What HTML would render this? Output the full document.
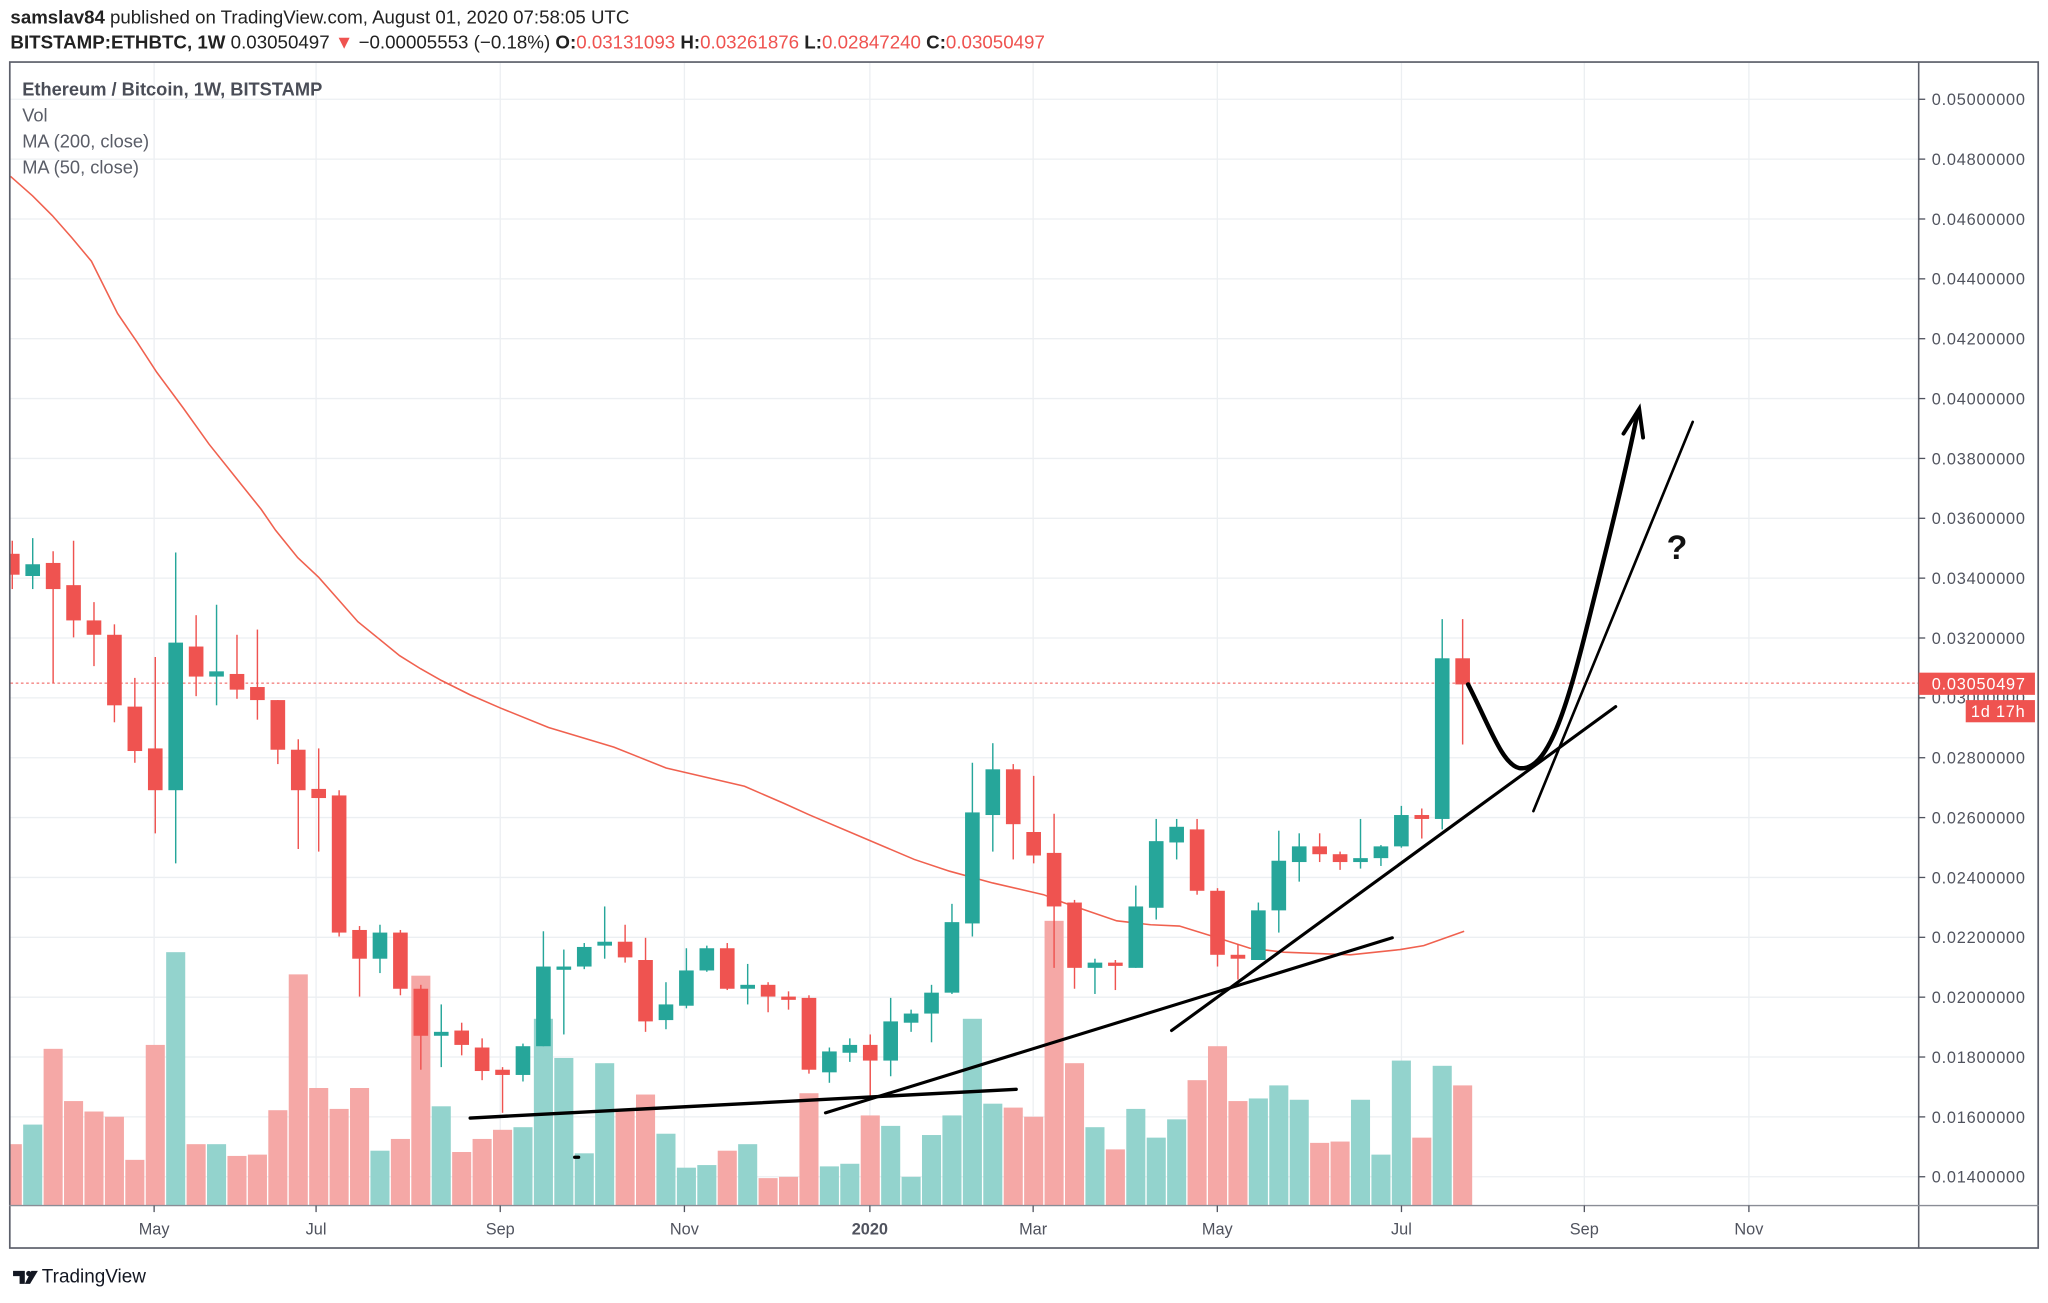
<!DOCTYPE html>
<html><head><meta charset="utf-8"><style>
html,body{margin:0;padding:0;background:#fff;}
svg{display:block;font-family:"Liberation Sans",sans-serif;}
</style></head><body>
<svg id="c" xmlns="http://www.w3.org/2000/svg" width="2048" height="1303" viewBox="0 0 1568 997.6" preserveAspectRatio="none">
<rect width="1568" height="998" fill="#fff"/>
<g id="grid"></g>
<g id="vol"></g>
<polyline fill="none" stroke="#f0614f" stroke-width="1.2" points="8,135 25,150 40,165 55,182 70,200 80,220 90,240 105,262 120,285 140,312 160,340 180,365 200,390 211,406 228,427 244,442 259,459 274,476 290,489 306,502 322,512 338,521 360,532 383,542 420,557 470,572 510,588 570,602 600,615 620,624 660,641 700,658 727,667 760,676 799,685 814,691 855,705 881,708 903,709 932,718 957,726 983,729 1034,731 1072,727 1090,724 1121,713"/>
<line x1="8" y1="523" x2="1469" y2="523" stroke="#ef5350" stroke-width="0.8" stroke-dasharray="2,2"/>
<g id="cnd"></g>
<g stroke="#000" fill="none" stroke-linecap="round">
<line x1="360" y1="856" x2="778" y2="834" stroke-width="2.6"/>
<line x1="632" y1="852" x2="1066" y2="718" stroke-width="2.4"/>
<line x1="897" y1="789" x2="1237" y2="541" stroke-width="2.4"/>
<line x1="1174" y1="621" x2="1296" y2="323" stroke-width="2"/>
<path d="M1124,524 C1140,555 1150,585 1163,588 C1185,592 1200,540 1215,480 C1230,420 1245,360 1254,315" stroke-width="3.4"/>
<path d="M1243,332 L1255,313 L1258,335" stroke-width="3"/>
<line x1="440" y1="886" x2="443" y2="886" stroke-width="2.5"/>
</g>
<text x="1276" y="428" font-size="26" font-weight="bold" fill="#111">?</text>
<rect x="7.5" y="47.5" width="1553" height="908" fill="none" stroke="#5d606b" stroke-width="1.3"/>
<line x1="1469" y1="47" x2="1469" y2="956" stroke="#5d606b" stroke-width="1.2"/>
<line x1="7" y1="923" x2="1561" y2="923" stroke="#8a8d96" stroke-width="1"/>
<g id="axis" font-size="12.5" fill="#50535e" letter-spacing="0.6"></g>
<rect x="1469" y="515" width="89" height="17" fill="#ef5350"/>
<text x="1479" y="528" font-size="12.5" fill="#fff" letter-spacing="0.6">0.03050497</text>
<rect x="1505" y="536" width="53" height="17" fill="#ef5350"/>
<text x="1509" y="549" font-size="12.5" fill="#fff" letter-spacing="0.6">1d 17h</text>
<g id="xl" font-size="12.5" fill="#50535e" text-anchor="middle"></g>
<text x="8" y="18" font-size="14.3" fill="#222"><tspan font-weight="bold">samslav84</tspan> published on TradingView.com, August 01, 2020 07:58:05 UTC</text>
<text x="8" y="37" font-size="14.4" fill="#222" textLength="792" lengthAdjust="spacingAndGlyphs"><tspan font-weight="bold">BITSTAMP:ETHBTC, 1W</tspan>  0.03050497 <tspan fill="#ef5350">▼</tspan> −0.00005553 (−0.18%) <tspan font-weight="bold">O:</tspan><tspan fill="#ef5350">0.03131093</tspan> <tspan font-weight="bold">H:</tspan><tspan fill="#ef5350">0.03261876</tspan> <tspan font-weight="bold">L:</tspan><tspan fill="#ef5350">0.02847240</tspan> <tspan font-weight="bold">C:</tspan><tspan fill="#ef5350">0.03050497</tspan></text>
<text x="17" y="73" font-size="14" font-weight="bold" fill="#4a4d57">Ethereum / Bitcoin, 1W, BITSTAMP</text>
<text x="17" y="93" font-size="14" fill="#5a5d67">Vol</text>
<text x="17" y="113" font-size="14" fill="#5a5d67">MA (200, close)</text>
<text x="17" y="133" font-size="14" fill="#5a5d67">MA (50, close)</text>
<g transform="translate(9,970)"><path d="M1,3 h9 v10 h-4 v-6 h-5z" fill="#131722"/><circle cx="13" cy="5" r="2" fill="#131722"/><path d="M15,3 h5 l-6,10 h-4z" fill="#131722"/></g>
<text x="32" y="982" font-size="14.5" fill="#131722">TradingView</text>
</svg>
<script>
var NS="http://www.w3.org/2000/svg";
function el(p,t,a,txt){var e=document.createElementNS(NS,t);for(var k in a)e.setAttribute(k,a[k]);if(txt)e.textContent=txt;document.getElementById(p).appendChild(e);return e;}
for(var k=0;k<=18;k++){var y=76+45.83*k;el("grid","line",{x1:8,x2:1469,y1:y,y2:y,stroke:"#eceff2","stroke-width":1});
el("axis","line",{x1:1469,x2:1474,y1:y,y2:y,stroke:"#50535e","stroke-width":1});
var v=(0.05-0.002*k).toFixed(8);el("axis","text",{x:1479,y:y+4.5},v);}
var mx=[[118,"May"],[242,"Jul"],[383,"Sep"],[524,"Nov"],[666,"2020"],[791,"Mar"],[932,"May"],[1073,"Jul"],[1213,"Sep"],[1339,"Nov"]];
mx.forEach(function(m){el("grid","line",{x1:m[0],x2:m[0],y1:48,y2:923,stroke:"#eceff2","stroke-width":1});
el("xl","line",{x1:m[0],x2:m[0],y1:923,y2:928,stroke:"#50535e","stroke-width":1});
var t=el("xl","text",{x:m[0],y:945},m[1]);if(m[1]=="2020")t.setAttribute("font-weight","bold");});
var D=[[424,440,414,451,876],[441,432,412,451,861],[431,451,422,523,803],[448,475,414,488,843],[475,486,461,510,851],[486,540,478,553,855],[541,575,519,584,888],[573,605,503,638,800],[605,492,423,661,729],[495,518,471,533,876],[518,514,463,540,876],[516,528,486,535,885],[526,536,482,551,884],[536,574,536,585,850],[574,605,566,650,746],[604,611,573,652,833],[609,714,605,717,849],[712,734,709,763,833],[734,714,708,745,881],[714,757,712,762,872],[757,793,754,819,747],[793,790,769,817,847],[789,800,783,808,882],[802,820,795,827,872],[819,823,817,852,865],[823,801,799,828,863],[801,740,713,801,780],[741,740,727,792,810],[740,725,722,742,883],[724,721,694,734,814],[721,733,708,737,850],[735,782,718,790,838],[781,769,752,788,868],[770,743,726,772,894],[743,726,724,744,892],[726,757,722,758,881],[757,754,738,769,876],[754,763,752,775,902],[763,764,759,773,901],[764,819,762,822,837],[821,805,802,829,893],[806,800,795,813,891],[800,812,792,840,854],[812,782,764,824,862],[783,776,773,790,901],[776,760,754,798,869],[760,706,692,761,854],[707,622,584,717,780],[624,589,569,652,845],[589,631,585,658,848],[637,655,594,661,855],[653,694,623,741,705],[691,741,689,757,814],[741,737,734,761,863],[737,739,735,758,880],[741,694,678,741,849],[695,644,627,704,871],[645,633,627,658,857],[635,682,627,685,827],[682,731,680,740,801],[731,734,723,750,843],[735,697,691,735,841],[697,659,636,714,831],[660,648,638,675,842],[648,654,638,660,875],[654,660,652,666,874],[660,657,627,665,842],[657,648,647,663,884],[648,624,617,649,812],[624,627,619,642,871],[627,504,474,635,816],[504,524,474,570,831]];
D.forEach(function(d,i){var x=9.4+15.64*i;var up=d[1]<d[0];var col=up?"#26a69a":"#ef5350";
var vx=Math.max(8,x-7.3);el("vol","rect",{x:vx,y:d[4],width:x+7.3-vx,height:923-d[4],fill:up?"#93d3cd":"#f5a8a6"});
el("cnd","line",{x1:x,x2:x,y1:d[2],y2:d[3],stroke:col,"stroke-width":1.1});
var t=Math.min(d[0],d[1]),b=Math.max(d[0],d[1]);if(b-t<2.5){b=t+2.5;}
var bx=Math.max(8,x-5.6);el("cnd","rect",{x:bx,y:t,width:x+5.6-bx,height:b-t,fill:col});});
</script>
</body></html>
